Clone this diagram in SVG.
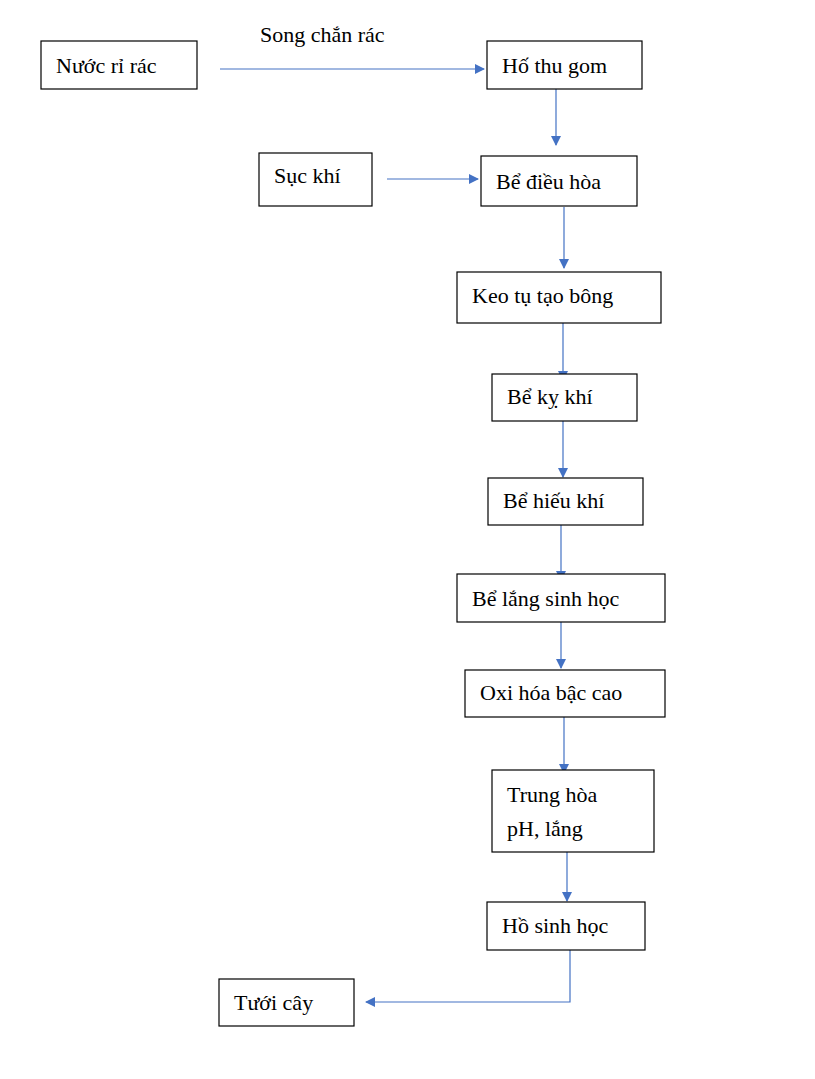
<svg xmlns="http://www.w3.org/2000/svg" width="815" height="1079" viewBox="0 0 815 1079">
<style>
rect{fill:#fff;stroke:#000;stroke-width:1.2}
text{font-family:"Liberation Serif","Times New Roman",serif;font-size:22px;fill:#000}
.c{fill:none;stroke:#4472C4;stroke-width:1.2;marker-end:url(#a)}
</style>
<defs><marker id="a" markerWidth="10" markerHeight="10" refX="9" refY="5" orient="auto" markerUnits="userSpaceOnUse"><path d="M0,0 L10,5 L0,10 z" fill="#4472C4"/></marker></defs>
<rect x="0" y="0" width="815" height="1079" style="stroke:none"/>
<g id="connectors">
<path class="c" d="M220,69 H484"/>
<path class="c" d="M556,89 V145"/>
<path class="c" d="M387,179 H478"/>
<path class="c" d="M564,207 V268"/>
<path class="c" d="M563,323 V380"/>
<path class="c" d="M563,421 V477"/>
<path class="c" d="M561,525 V580"/>
<path class="c" d="M561,622 V668"/>
<path class="c" d="M564,717 V773"/>
<path class="c" d="M567,847 V901"/>
<path class="c" d="M570,950 V1002 H366"/>
</g>
<text x="260" y="42">Song chắn rác</text>
<g id="n1"><rect x="41" y="41" width="156" height="48"/><text x="56" y="73">Nước rỉ rác</text></g>
<g id="n2"><rect x="487" y="41" width="155" height="48"/><text x="502" y="73">Hố thu gom</text></g>
<g id="n3"><rect x="259" y="153" width="113" height="53"/><text x="274" y="183">Sục khí</text></g>
<g id="n4"><rect x="481" y="156" width="156" height="50"/><text x="496" y="189">Bể điều hòa</text></g>
<g id="n5"><rect x="457" y="272" width="204" height="51"/><text x="472" y="303">Keo tụ tạo bông</text></g>
<g id="n6"><rect x="492" y="374" width="145" height="47"/><text x="507" y="404">Bể kỵ khí</text></g>
<g id="n7"><rect x="488" y="478" width="155" height="47"/><text x="503" y="508">Bể hiếu khí</text></g>
<g id="n8"><rect x="457" y="574" width="208" height="48"/><text x="472" y="606">Bể lắng sinh học</text></g>
<g id="n9"><rect x="465" y="670" width="200" height="47"/><text x="480" y="700">Oxi hóa bậc cao</text></g>
<g id="n10"><rect x="492" y="770" width="162" height="82"/><text x="507" y="802">Trung hòa</text><text x="507" y="836">pH, lắng</text></g>
<g id="n11"><rect x="487" y="902" width="158" height="48"/><text x="502" y="933">Hồ sinh học</text></g>
<g id="n12"><rect x="219" y="979" width="135" height="47"/><text x="234" y="1010">Tưới cây</text></g>
</svg>
